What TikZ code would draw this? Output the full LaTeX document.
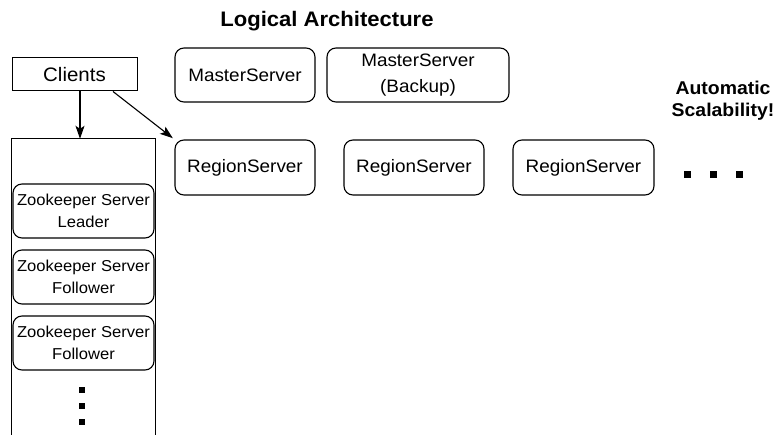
\documentclass[tikz,border=0pt]{standalone}
\usepackage{fontspec}
\setmainfont{Liberation Sans}[FakeStretch=1.05]
\usetikzlibrary{arrows.meta}
\tikzset{
  box/.style={draw, line width=1.1pt, rounded corners=9pt, inner sep=0pt, align=center},
  zkbox/.style={box, minimum width=141pt, minimum height=54pt, font=\fontsize{15.8}{21.5}\selectfont},
  srvbox/.style={box, minimum width=140pt, minimum height=54pt, font=\fontsize{18}{25.5}\selectfont},
  dotsq/.style={fill=black, inner sep=0pt, minimum size=6.5pt},
  conn/.style={line width=1.1pt, -{Stealth[length=13pt,width=9pt,inset=3pt]}},
}
\begin{document}
\begin{tikzpicture}[x=1pt,y=-1pt]
\useasboundingbox (0,0) rectangle (781,435);
\node[font=\fontsize{21}{25}\selectfont\bfseries] (title) at (327,21) {Logical Architecture};
\node[draw, line width=1pt, minimum width=125pt, minimum height=33pt, inner sep=0pt,
      font=\fontsize{19.5}{23}\selectfont] (clients) at (74.5,74.5) {Clients};
\node[minimum width=143pt, minimum height=296pt, inner sep=0pt] (zk) at (83.5,287) {};
\draw[line width=1.1pt] (zk.south west) |- (zk.north east) -- (zk.south east);
\node[zkbox] (zk1) at (83.5,211) {Zookeeper Server\\Leader};
\node[zkbox] (zk2) at (83.5,277) {Zookeeper Server\\Follower};
\node[zkbox] (zk3) at (83.5,343) {Zookeeper Server\\Follower};
\node[dotsq] (vd1) at (82,390) {};
\node[dotsq] (vd2) at (82,406) {};
\node[dotsq] (vd3) at (82,422) {};
\node[srvbox] (ms) at (245,75) {MasterServer};
\node[srvbox, minimum width=182pt] (msb) at (418,75) {MasterServer\\(Backup)};
\node[srvbox, minimum height=55pt] (rs1) at (245,167.5) {RegionServer};
\node[srvbox, minimum height=55pt] (rs2) at (414,167.5) {RegionServer};
\node[srvbox, minimum height=55pt, minimum width=141pt] (rs3) at (583.5,167.5) {RegionServer};
\node[dotsq, minimum size=7pt] (hd1) at (687,175) {};
\node[dotsq, minimum size=7pt] (hd2) at (713,175) {};
\node[dotsq, minimum size=7pt] (hd3) at (739,175) {};
\node[align=center, font=\fontsize{18.5}{22}\selectfont\bfseries] (auto) at (723,101) {Automatic\\Scalability!};
\coordinate (ax) at (80,0);
\coordinate (bx) at (113,0);
\draw[conn] (clients.south -| ax) -- (zk.north -| ax);
\draw[conn, shorten >=2pt] (clients.south -| bx) -- (rs1.north west);
\end{tikzpicture}
\end{document}
